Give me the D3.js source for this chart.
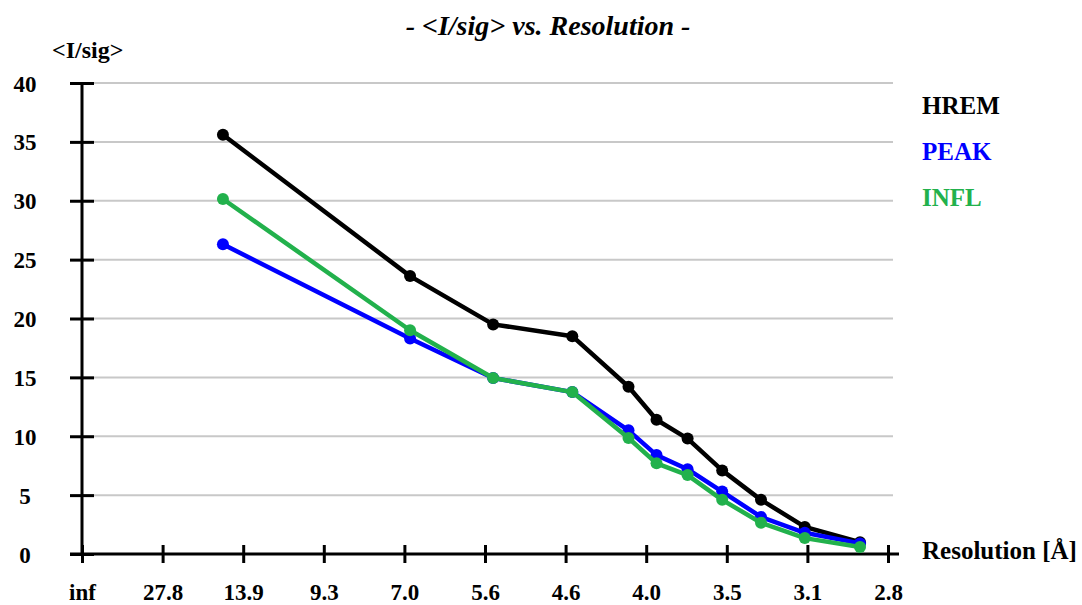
<!DOCTYPE html>
<html>
<head>
<meta charset="utf-8">
<script src="https://cdn.jsdelivr.net/npm/d3@7"></script>
<style>
  body { margin: 0; background: #fff; }
  text { font-family: "Liberation Serif", "DejaVu Serif", serif; font-weight: bold; }
</style>
</head>
<body>
<div id="wrapper"></div>
<script>
// resolution of each shell (Angstrom)
const resolution = [15.9, 6.83, 5.45, 4.57, 4.10, 3.90, 3.70, 3.50, 3.30, 3.10, 2.88];

// <I/sig> per dataset
const hrem = [35.6, 23.6, 19.5, 18.5, 14.2, 11.4, 9.8, 7.1, 4.6, 2.3, 1.0];
const peak = [26.3, 18.3, 14.95, 13.75, 10.5, 8.4, 7.2, 5.3, 3.15, 1.8, 0.9];
const infl = [30.15, 19.0, 14.95, 13.75, 9.85, 7.7, 6.7, 4.6, 2.65, 1.35, 0.6];

const seriesNames = ["HREM", "PEAK", "INFL"];
const seriesColors = ["#000000", "#0000ff", "#22b14c"];

const xTickLabels = ["inf", "27.8", "13.9", "9.3", "7.0", "5.6", "4.6", "4.0", "3.5", "3.1", "2.8"];
const yTicks = [0, 5, 10, 15, 20, 25, 30, 35, 40];

function drawChart() {
    const dimensions = {
        width: 1082,
        height: 605,
        margin: { top: 83, right: 194, bottom: 51, left: 82 },
    };
    dimensions.boundedWidth = dimensions.width - dimensions.margin.left - dimensions.margin.right;
    dimensions.boundedHeight = dimensions.height - dimensions.margin.top - dimensions.margin.bottom;

    const wrapper = d3.select("#wrapper")
        .append("svg")
        .attr("width", dimensions.width)
        .attr("height", dimensions.height);

    const bounds = wrapper.append("g")
        .attr("transform", `translate(${dimensions.margin.left}, ${dimensions.margin.top})`);

    // x is linear in 1/d; ticks are every 1/27.8
    const step = 1 / 27.8;
    const xScale = d3.scaleLinear()
        .domain([0, step * (xTickLabels.length - 1)])
        .range([0, dimensions.boundedWidth]);

    const yScale = d3.scaleLinear()
        .domain([0, 40])
        .range([dimensions.boundedHeight, 0]);

    // grid lines
    bounds.append("g")
        .selectAll("line")
        .data(yTicks.filter(d => d > 0))
        .join("line")
        .attr("x1", 0)
        .attr("x2", dimensions.boundedWidth + 5)
        .attr("y1", d => yScale(d))
        .attr("y2", d => yScale(d))
        .attr("stroke", "#c8c8c8")
        .attr("stroke-width", 2);

    // y axis
    const yAxis = bounds.append("g")
        .call(d3.axisLeft(yScale).tickValues(yTicks).tickSize(0).tickFormat(""));
    yAxis.select(".domain").remove();
    yAxis.append("line")
        .attr("x1", 0).attr("x2", 0)
        .attr("y1", 0).attr("y2", dimensions.boundedHeight)
        .attr("stroke", "#000").attr("stroke-width", 3);
    yAxis.selectAll(".tick line")
        .attr("x1", -12).attr("x2", 12)
        .attr("stroke", "#000").attr("stroke-width", 3);
    yAxis.selectAll(".tick").append("text")
        .attr("x", 25 - dimensions.margin.left)
        .attr("dy", "0.35em")
        .attr("fill", "#000")
        .attr("text-anchor", "middle")
        .style("font-size", "23px")
        .text(d => d);

    // x axis
    const xAxis = bounds.append("g")
        .attr("transform", `translate(0, ${dimensions.boundedHeight})`)
        .call(d3.axisBottom(xScale)
            .tickValues(xTickLabels.map((d, i) => i * step))
            .tickSize(0)
            .tickFormat(""));
    xAxis.select(".domain").remove();
    xAxis.append("line")
        .attr("x1", -12).attr("x2", dimensions.boundedWidth + 11)
        .attr("stroke", "#000").attr("stroke-width", 3);
    xAxis.selectAll(".tick line")
        .attr("y1", -9).attr("y2", 9)
        .attr("stroke", "#000").attr("stroke-width", 3);
    xAxis.selectAll(".tick").append("text")
        .attr("y", 46)
        .attr("fill", "#000")
        .attr("text-anchor", "middle")
        .style("font-size", "23px")
        .text((d, i) => xTickLabels[i]);

    xAxis.append("text")
        .attr("x", 922 - dimensions.margin.left)
        .attr("y", 5)
        .attr("fill", "#000")
        .attr("text-anchor", "start")
        .style("font-size", "25px")
        .text("Resolution [Å]");

    // series
    const series = [hrem, peak, infl];
    const lineGenerator = d3.line()
        .x((d, i) => xScale(1 / resolution[i]))
        .y(d => yScale(d));

    series.forEach((values, s) => {
        const g = bounds.append("g");
        g.append("path")
            .attr("d", lineGenerator(values))
            .attr("fill", "none")
            .attr("stroke", seriesColors[s])
            .attr("stroke-width", 4.5)
            .attr("stroke-linejoin", "round");
        g.selectAll("circle")
            .data(values)
            .join("circle")
            .attr("cx", (d, i) => xScale(1 / resolution[i]))
            .attr("cy", d => yScale(d))
            .attr("r", 6)
            .attr("fill", seriesColors[s]);
    });

    // legend
    wrapper.append("g")
        .selectAll("text")
        .data(seriesNames)
        .join("text")
        .attr("x", 922)
        .attr("y", (d, i) => 114 + i * 46)
        .attr("fill", (d, i) => seriesColors[i])
        .style("font-size", "25px")
        .text(d => d);

    // titles
    wrapper.append("text")
        .attr("x", 548)
        .attr("y", 35)
        .attr("text-anchor", "middle")
        .style("font-size", "28px")
        .style("font-style", "italic")
        .text("- <I/sig> vs. Resolution -");

    wrapper.append("text")
        .attr("x", 52)
        .attr("y", 58)
        .style("font-size", "24px")
        .text("<I/sig>");
}

drawChart();
</script>
</body>
</html>
